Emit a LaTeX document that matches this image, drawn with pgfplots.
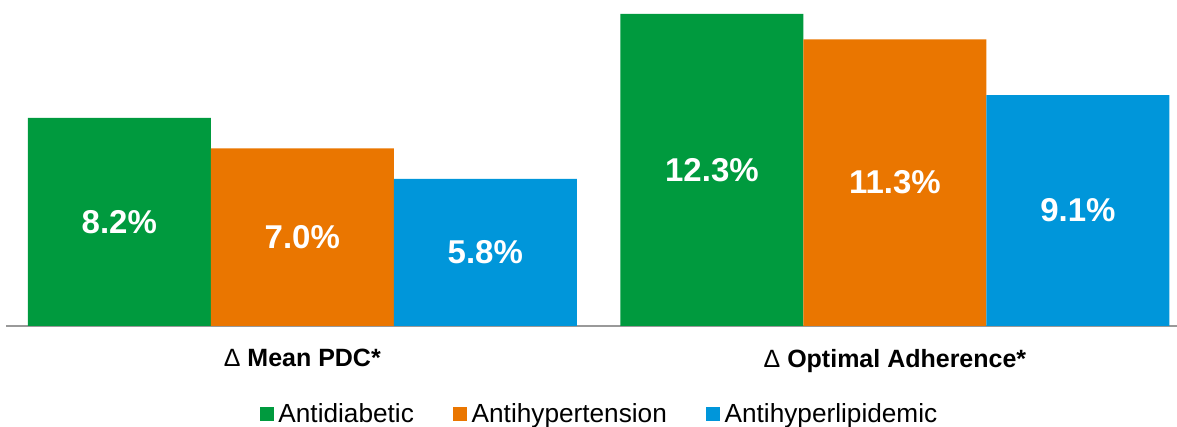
\documentclass[border=0pt]{standalone}
\usepackage{fontspec}
\setmainfont{Liberation Sans}
\usepackage{pgfplots}
\pgfplotsset{compat=1.18}
\definecolor{cgreen}{RGB}{0,154,62}
\definecolor{corange}{RGB}{234,118,0}
\definecolor{cblue}{RGB}{0,150,218}
\begin{document}
\begin{tikzpicture}
\begin{axis}[
  at={(0,0)}, anchor=south west,
  scale only axis,
  width=585.5pt, height=163pt,
  xmin=-0.5, xmax=1.476,
  ymin=0, ymax=12.85,
  ybar=0pt, bar width=91.5pt,
  axis x line=bottom, axis y line=none,
  x axis line style={-, draw=gray!80, line width=1pt},
  xtick={0,1},
  xticklabels={{\fontsize{12.5}{14}\selectfont Δ \bfseries Mean PDC*},{\fontsize{12.5}{14}\selectfont Δ \bfseries Optimal Adherence*}},
  major tick length=0pt,
  xticklabel style={yshift=-8pt},
  clip=false,
  /pgf/number format/assume math mode=true,
  visualization depends on=y \as \rawy,
  nodes near coords={\pgfmathprintnumber[fixed,fixed zerofill,precision=1]{\pgfplotspointmeta}\%},
  every node near coord/.append style={anchor=center, text=white,
     font=\bfseries\fontsize{16.5}{18}\selectfont,
     shift={(axis direction cs:0,-\rawy/2)}},
  legend style={at={(0.508,-0.27)}, anchor=center, draw=none, fill=none,
     legend columns=3, font=\fontsize{13.1}{14}\selectfont,
     nodes={inner xsep=2.2pt},
     /tikz/every even column/.append style={column sep=17.5pt}},
  legend image code/.code={\fill[#1] (0pt,-3.3pt) rectangle (7pt,3.3pt);},
]
\addplot[fill=cgreen, draw=none] coordinates {(0,8.2) (1,12.3)};
\addplot[fill=corange, draw=none] coordinates {(0,7.0) (1,11.3)};
\addplot[fill=cblue, draw=none] coordinates {(0,5.8) (1,9.1)};
\legend{Antidiabetic,Antihypertension,Antihyperlipidemic}
\end{axis}
\pgfresetboundingbox
\path[use as bounding box] (-3pt,-50.5pt) rectangle (585.5pt,163pt);
\end{tikzpicture}
\end{document}
